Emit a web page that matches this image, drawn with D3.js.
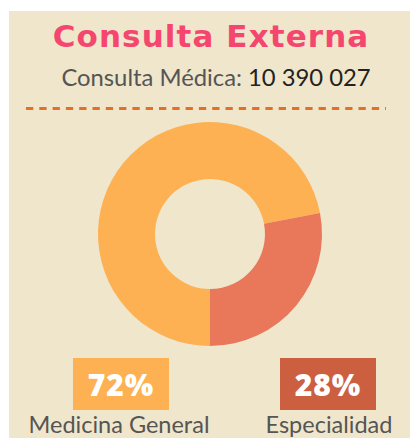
<!DOCTYPE html>
<html>
  <head>
    <meta charset="utf-8">
    <script src="https://d3js.org/d3.v7.min.js"></script>
    <style>
      body { margin: 0; background: #ffffff; }
      svg { display: block; }
    </style>
  </head>
<body>
  <script>
    // data
    var categories = ["Medicina General", "Especialidad"];
    var shares = [72, 28];
    var total = "10 390 027";
    var pctLabels = ["72%", "28%"];

    var sliceColors = ["#fdb152", "#e97759"];
    var boxColors = ["#fdb152", "#cd5f41"];

    var W = 410, H = 438;
    var svg = d3.select("body").append("svg")
        .attr("width", W).attr("height", H);

    // beige card
    svg.append("rect")
        .attr("x", 9).attr("y", 11)
        .attr("width", W - 9).attr("height", H - 11)
        .attr("fill", "#efe6cb");

    // title
    svg.append("text")
        .attr("x", 211).attr("y", 47)
        .attr("text-anchor", "middle")
        .attr("font-family", "'DejaVu Sans', sans-serif")
        .attr("font-weight", "bold")
        .attr("font-size", 31)
        .attr("letter-spacing", 1.1)
        .attr("fill", "#f5466f")
        .text("Consulta Externa");

    var sub = svg.append("text")
        .attr("x", 216).attr("y", 86)
        .attr("text-anchor", "middle")
        .attr("font-family", "Lato, sans-serif")
        .attr("font-size", 23.8);
    sub.append("tspan").attr("fill", "#555555").text("Consulta Médica: ");
    sub.append("tspan").attr("fill", "#222222").text(total);

    // dashed rule
    svg.append("line")
        .attr("x1", 26).attr("x2", 386)
        .attr("y1", 108.5).attr("y2", 108.5)
        .attr("stroke", "#e2702a")
        .attr("stroke-width", 3)
        .attr("stroke-dasharray", "7.3 6");

    // donut
    var pie = d3.pie().sort(null)
        .startAngle(Math.PI).endAngle(3 * Math.PI);
    var arc = d3.arc().innerRadius(55).outerRadius(112);

    svg.append("g")
        .attr("transform", "translate(210,234)")
      .selectAll("path")
      .data(pie(shares))
      .join("path")
        .attr("d", arc)
        .attr("fill", function(d, i) { return sliceColors[i]; });

    // legend boxes
    var x = d3.scalePoint().domain(categories).range([121, 328]);

    var g = svg.selectAll("g.leg")
      .data(categories)
      .join("g")
        .attr("class", "leg")
        .attr("transform", function(d) { return "translate(" + x(d) + ",0)"; });

    g.append("rect")
        .attr("x", -48).attr("y", 358)
        .attr("width", 96).attr("height", 52)
        .attr("fill", function(d, i) { return boxColors[i]; });

    g.append("text")
        .attr("y", 396)
        .attr("text-anchor", "middle")
        .attr("font-family", "'Open Sans', sans-serif")
        .attr("font-weight", 800)
        .attr("font-size", 30)
        .attr("letter-spacing", 1)
        .attr("fill", "#ffffff")
        .text(function(d, i) { return pctLabels[i]; });

    g.append("text")
        .attr("y", 433)
        .attr("dx", function(d, i) { return i === 0 ? -2 : 1; })
        .attr("text-anchor", "middle")
        .attr("font-family", "Lato, sans-serif")
        .attr("font-size", 23.5)
        .attr("fill", "#555555")
        .text(function(d) { return d; });
  </script>
</body>
</html>
